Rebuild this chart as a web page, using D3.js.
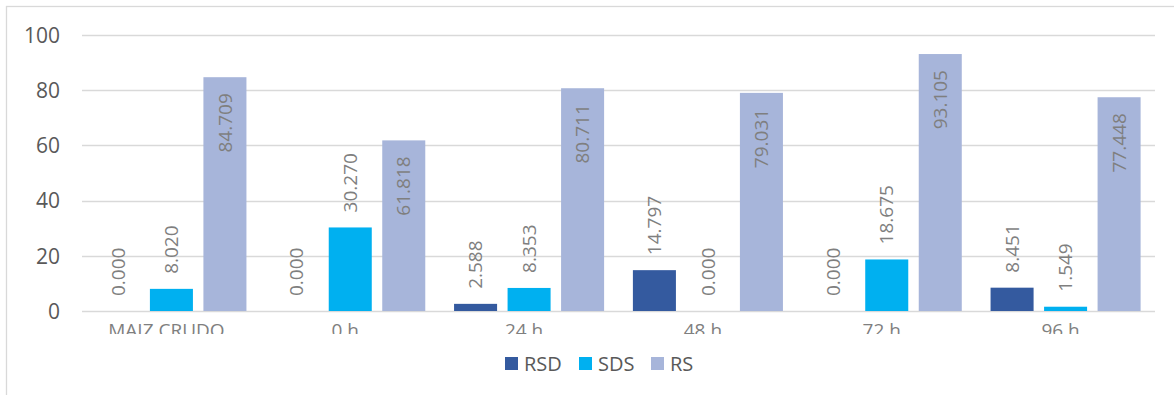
<!DOCTYPE html>
<html>
<head>
<meta charset="utf-8">
<script src="https://cdn.jsdelivr.net/npm/d3@7"></script>
<style>
  html, body { margin: 0; padding: 0; background: #fff; }
  svg { display: block; font-family: "Open Sans", "Noto Sans", sans-serif; }
</style>
</head>
<body>
<svg id="chart" width="1174" height="395"></svg>
<script>
// Categories, series and values
const categories = ["MAIZ CRUDO", "0 h", "24 h", "48 h", "72 h", "96 h"];
const seriesNames = ["RSD", "SDS", "RS"];
const rsd = [0.000, 0.000, 2.588, 14.797, 0.000, 8.451];
const sds = [8.020, 30.270, 8.353, 0.000, 18.675, 1.549];
const rs  = [84.709, 61.818, 80.711, 79.031, 93.105, 77.448];
const yTicks = [0, 20, 40, 60, 80, 100];
const colors = { RSD: "#345A9F", SDS: "#00B0F0", RS: "#A7B5DA" };

const seriesValues = { RSD: rsd, SDS: sds, RS: rs };
const rows = categories.map((c, i) => ({
  cat: c,
  vals: seriesNames.map(s => ({ key: s, value: seriesValues[s][i] }))
}));

const svg = d3.select("#chart");

// chart frame (only top and left edges fall inside the view)
svg.append("rect")
  .attr("x", 6.5).attr("y", 6.5)
  .attr("width", 1300).attr("height", 600)
  .attr("fill", "none").attr("stroke", "#D9D9D9").attr("stroke-width", 1.3);

const plot = { left: 82, right: 1155, top: 35, bottom: 311 };

const y = d3.scaleLinear().domain([0, 100]).range([plot.bottom, plot.top]);
const x0 = d3.scaleBand().domain(categories)
  .range([plot.left, plot.right]).paddingInner(0.161).paddingOuter(0.0805);
const x1 = d3.scaleBand().domain(seriesNames)
  .range([0, x0.bandwidth()]).paddingInner(0.196);

// gridlines
svg.append("g").selectAll("line").data(yTicks).join("line")
  .attr("x1", plot.left).attr("x2", plot.right)
  .attr("y1", d => Math.round(y(d)) + 0.5).attr("y2", d => Math.round(y(d)) + 0.5)
  .attr("stroke", "#D9D9D9").attr("stroke-width", 1.3);

// y axis labels
const yAxis = d3.axisLeft(y).tickValues(yTicks).tickSize(0).tickPadding(0).tickFormat(d3.format("d"));
const yg = svg.append("g").attr("transform", `translate(${plot.left - 22},0)`).call(yAxis);
yg.select(".domain").remove();
yg.selectAll("text")
  .attr("font-family", "'Open Sans', sans-serif")
  .attr("font-size", 21).attr("fill", "#595959")
  .attr("dy", "0.35em");

// x axis labels, clipped at the bottom edge
svg.append("defs").append("clipPath").attr("id", "xclip")
  .append("rect").attr("x", 0).attr("y", plot.bottom).attr("width", 1174).attr("height", 23);
const xAxis = d3.axisBottom(x0).tickSize(0).tickPadding(0);
const xg = svg.append("g").attr("clip-path", "url(#xclip)")
  .append("g").attr("transform", `translate(-5,${plot.bottom + 12})`).call(xAxis);
xg.select(".domain").remove();
xg.selectAll("text")
  .attr("font-family", "'Open Sans', sans-serif")
  .attr("font-size", 19).attr("fill", "#7F7F7F")
  .attr("dy", "0.71em");

// bars
const groups = svg.append("g").selectAll("g").data(rows).join("g")
  .attr("transform", d => `translate(${x0(d.cat)},0)`);

groups.selectAll("rect").data(d => d.vals).join("rect")
  .attr("x", d => x1(d.key))
  .attr("width", x1.bandwidth())
  .attr("y", d => y(d.value))
  .attr("height", d => y(0) - y(d.value))
  .attr("fill", d => colors[d.key]);

// value labels: RS inside the bar end, the others above the bar
groups.selectAll("text.val").data(d => d.vals).join("text")
  .attr("class", "val")
  .attr("transform", d => {
    const cx = x1(d.key) + x1.bandwidth() / 2;
    const ty = d.key === "RS" ? y(d.value) + 16 : y(d.value) - 15;
    return `translate(${cx},${ty}) rotate(-90)`;
  })
  .attr("text-anchor", d => d.key === "RS" ? "end" : "start")
  .attr("dy", "0.35em")
  .attr("font-size", 19)
  .attr("fill", "#7F7F7F")
  .text(d => d3.format(".3f")(d.value));

// legend
const legendPos = { RSD: 505, SDS: 579, RS: 651 };
const lg = svg.append("g").selectAll("g").data(seriesNames).join("g")
  .attr("transform", d => `translate(${legendPos[d]},357)`);
lg.append("rect").attr("width", 13).attr("height", 13).attr("fill", d => colors[d]);
lg.append("text").attr("x", 19).attr("y", 6.5).attr("dy", "0.36em")
  .attr("font-size", 20).attr("fill", "#595959").text(d => d);
</script>
</body>
</html>
